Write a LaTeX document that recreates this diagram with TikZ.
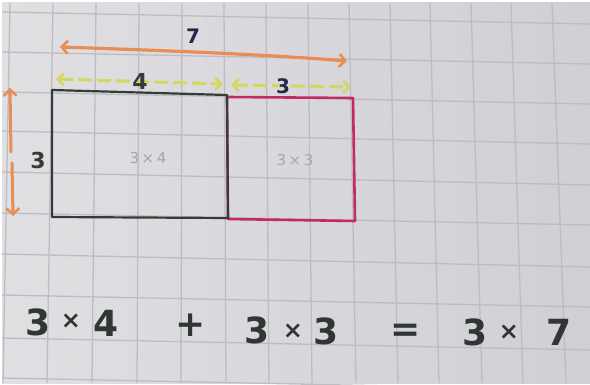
\documentclass[tikz,border=0pt]{standalone}
\usepackage{fontspec}
\setmainfont{DejaVu Sans}
\usetikzlibrary{arrows.meta}
\definecolor{paperL}{RGB}{224,224,227}
\definecolor{paperR}{RGB}{208,207,212}
\definecolor{gridc}{RGB}{188,188,194}
\definecolor{inkdark}{RGB}{52,60,58}
\definecolor{inkpink}{RGB}{196,42,98}
\definecolor{inkorange}{RGB}{232,142,84}
\definecolor{inkyellow}{RGB}{212,214,96}
\definecolor{inknavy}{RGB}{38,40,72}
\definecolor{inklight}{RGB}{165,165,171}
\tikzset{
  gridline/.style={draw=gridc, line width=1.3pt},
  blackpen/.style={draw=inkdark, line width=2.2pt, line join=round, line cap=round},
  pinkpen/.style={draw=inkpink, line width=2.6pt, line join=round, line cap=round},
  orangepen/.style={draw=inkorange, line width=3.2pt, line cap=round,
     arrows={Straight Barb[length=6pt,width=13pt,line width=2.6pt]-Straight Barb[length=6pt,width=13pt,line width=2.6pt]}},
  orangeup/.style={draw=inkorange, line width=3pt, line cap=round,
     arrows={Straight Barb[length=6pt,width=13pt,line width=2.6pt]-}},
  orangedown/.style={draw=inkorange, line width=3pt, line cap=round,
     arrows={-Straight Barb[length=6pt,width=13pt,line width=2.6pt]}},
  yellowpen/.style={draw=inkyellow, line width=3pt, dash pattern=on 14pt off 5pt,
     arrows={Straight Barb[length=6pt,width=12pt,line width=2.6pt]-Straight Barb[length=6pt,width=12pt,line width=2.6pt]}},
  toplabel/.style={inner sep=0pt, text=inknavy, font=\bfseries\fontsize{20}{20}\selectfont},
  sidelabel/.style={inner sep=0pt, text=inkdark, font=\bfseries\fontsize{22}{22}\selectfont},
  areatext/.style={inner sep=0pt, text=inklight, font=\fontsize{15}{15}\selectfont},
  eqdigit/.style={inner sep=0pt, text=inkdark!90!black, font=\bfseries\fontsize{36}{36}\selectfont},
  eqtimes/.style={inner sep=0pt, text=inkdark!90!black, font=\bfseries\fontsize{24}{24}\selectfont},
}
\begin{document}
\begin{tikzpicture}[x=1pt,y=-1pt]
\useasboundingbox (0,0) rectangle (590,385);
\fill[white] (0,0) rectangle (590,385);
\shade[left color=paperL, right color=paperR] (2,3) rectangle (590,383);
% grid paper
\foreach \a/\b in {10/3,53/47,96/92,139/137,182/181,224/226,266/269,308/312,349/356,390/398,430/439,471/482,511/523,552/566}
  \draw[gridline] (\a,3) -- (\b,383);
\foreach \a/\b in {12/24,52/64,92/104,131/144,172/185,213/225,254/267,295/307,338/350,378/390}
  \draw[gridline] (2,\a) -- (590,\b);
% rectangles
\coordinate (b1) at (52,90);
\coordinate (b2) at (227,95);
\coordinate (b3) at (228,218);
\coordinate (b4) at (52,217);
\coordinate (p1) at (227,97);
\coordinate (p2) at (353,98);
\coordinate (p3) at (355,221);
\coordinate (p4) at (228,219);
\draw[pinkpen] (p1) -- (p2) -- (p3) -- (p4) -- cycle;
\draw[blackpen] (b1) -- (b2) -- (b3) -- (b4) -- cycle;
% dimension arrows
\coordinate (s7) at (60,47);
\coordinate (e7) at (347,61);
\draw[orangepen] (s7) .. controls (150,50) and (260,54) .. (e7);
\coordinate (s4) at (56,79);
\coordinate (e4) at (223,84);
\draw[yellowpen] (s4) -- (e4);
\coordinate (s3) at (231,85);
\coordinate (e3) at (351,87);
\draw[yellowpen] (s3) -- (e3);
\coordinate (v1) at (10,88);
\coordinate (v2) at (11,152);
\coordinate (v3) at (12,163);
\coordinate (v4) at (13,216);
\draw[orangeup] (v1) -- (v2);
\draw[orangedown] (v3) -- (v4);
% labels
\node[toplabel] (l7) at (193,36) {7};
\node[sidelabel] (l4) at (140,81) {4};
\node[toplabel] (l3) at (283,86) {3};
\node[sidelabel] (lh) at (38,160) {3};
\node[areatext] (a1) at (148,158) {3\,×\,4};
\node[areatext] (a2) at (295,160) {3\,×\,3};
% equation
\node[eqdigit] (q1) at (38,322) {3};
\node[eqtimes] (q2) at (71,321) {×};
\node[eqdigit] (q3) at (106,323) {4};
\node[eqdigit] (q4) at (191,325) {+};
\node[eqdigit] (q5) at (257,330) {3};
\node[eqtimes] (q6) at (293,331) {×};
\node[eqdigit] (q7) at (326,331) {3};
\node[eqdigit] (q8) at (406,333) {=};
\node[eqdigit] (q9) at (475,332) {3};
\node[eqtimes] (q10) at (509,332) {×};
\node[eqdigit] (q11) at (559,332) {7};
\end{tikzpicture}
\end{document}
